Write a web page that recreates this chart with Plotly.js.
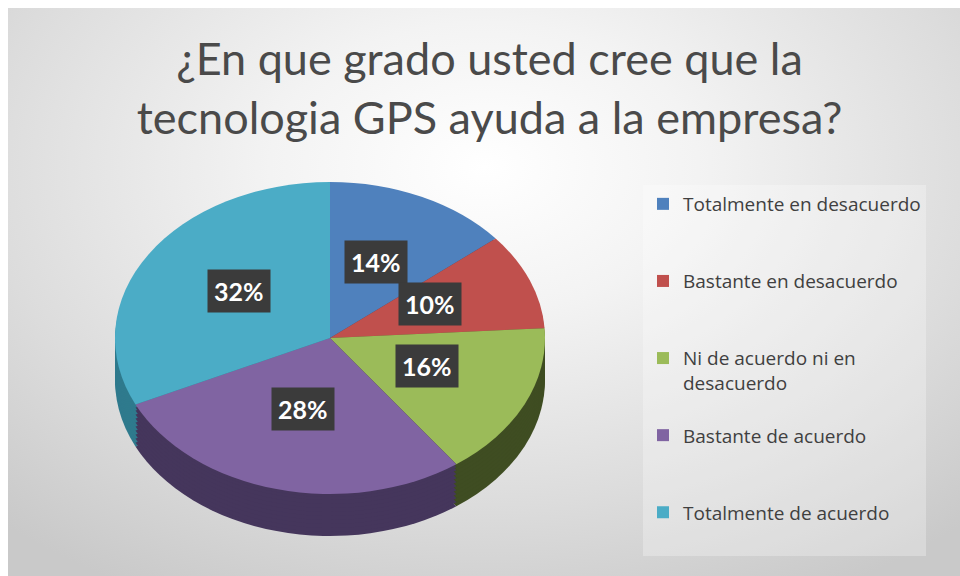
<!DOCTYPE html>
<html>
<head>
<meta charset="utf-8">
<script src="https://cdn.plot.ly/plotly-3.0.1.min.js"></script>
<style>
  html, body { margin: 0; padding: 0; background: #ffffff; }
  #wrap { position: absolute; left: 0; top: 0; width: 960px; height: 576px; background: #ffffff; }
  #bg { position: absolute; left: 8px; top: 8px; width: 952px; height: 568px;
        background: radial-gradient(ellipse 75% 85% at 50% 28%, #ffffff 0%, #f3f3f3 30%, #dcdcdc 70%, #c9c9c9 100%); }
  #chart { position: absolute; left: 0; top: 0; width: 960px; height: 576px; }
</style>
</head>
<body>
<div id="wrap"><div id="bg"></div><div id="chart"></div></div>
<script>
// ---- data ----
const titleText = "¿En que grado usted cree que la<br>tecnologia GPS ayuda a la empresa?";
const categories = [
  "Totalmente en desacuerdo",
  "Bastante en desacuerdo",
  "Ni de acuerdo ni en desacuerdo",
  "Bastante de acuerdo",
  "Totalmente de acuerdo"
];
const percents = [14, 10, 16, 28, 32];
const topColors  = ["#4F81BD", "#C0504D", "#9BBB59", "#8064A2", "#4BACC6"];
const sideColors = ["#2f4d72", "#73302e", "#3f4d22", "#45365c", "#2f7a8d"];

// ---- layout helpers ----
const W = 960, H = 576;
const cxPx = 330, cyPx = 338, rx = 215, ry = 156;
const sy = ry / rx;
const depthOffsets = [42, 38, 34, 30, 26, 22, 18, 14, 10, 6, 3];

function wrapText(s, maxLen) {
  const words = s.split(" ");
  const lines = []; let cur = "";
  words.forEach(w => {
    if (cur && (cur + " " + w).length > maxLen) { lines.push(cur); cur = w; }
    else cur = cur ? cur + " " + w : w;
  });
  if (cur) lines.push(cur);
  return lines;
}
const legendLabels = categories.map((c, i) => {
  const lines = wrapText(c, 24);
  const n = i === categories.length - 1 ? 2 : 3;
  while (lines.length < n) lines.push(" ");
  return lines.join("<br>");
});

const domain = {
  x: [(cxPx - rx) / W, (cxPx + rx) / W],
  y: [1 - (cyPx + rx) / H, 1 - (cyPx - rx) / H]
};

const traces = [];
depthOffsets.forEach(off => {
  traces.push({
    type: "pie", values: percents, labels: legendLabels, sort: false,
    direction: "clockwise", rotation: 0, textinfo: "none", hoverinfo: "skip",
    showlegend: false, domain: domain,
    marker: { colors: sideColors, line: { width: 0 } }
  });
});
traces.push({
  type: "pie", values: percents, labels: legendLabels, sort: false,
  direction: "clockwise", rotation: 0, textinfo: "none",
  hovertemplate: "%{percent}<extra></extra>",
  domain: domain,
  marker: { colors: topColors, line: { width: 0 } }
});

// data labels positioned from cumulative shares
const total = percents.reduce((a, b) => a + b, 0);
let cum = 0;
const annotations = percents.map(v => {
  const mid = (cum + v / 2) / total; cum += v;
  const th = 2 * Math.PI * mid;
  const x = cxPx + 0.5 * rx * Math.sin(th);
  const y = cyPx - 5 - 0.5 * ry * Math.cos(th);
  return {
    xref: "paper", yref: "paper", x: x / W, y: 1 - y / H,
    text: "<b>" + Math.round(v / total * 100) + "%</b>", showarrow: false,
    font: { family: "Lato, 'Open Sans', sans-serif", size: 25, color: "#ffffff" },
    bgcolor: "#3b3b3b", borderpad: 6, xanchor: "center", yanchor: "middle"
  };
});

const layout = {
  width: W, height: H,
  margin: { l: 0, r: 0, t: 0, b: 0 },
  paper_bgcolor: "rgba(0,0,0,0)", plot_bgcolor: "rgba(0,0,0,0)",
  title: {
    text: titleText, x: 0.51, xanchor: "center", y: 1 - 75 / H, yanchor: "middle",
    font: { family: "Lato, 'Open Sans', sans-serif", size: 45, color: "#4a4a4a" }
  },
  showlegend: true,
  legend: {
    x: 643 / W, y: 1 - 185 / H, xanchor: "left", yanchor: "top",
    bgcolor: "rgba(255,255,255,0.28)", borderwidth: 0, valign: "top",
    font: { family: "'Open Sans', Lato, sans-serif", size: 19, color: "#404040" },
    itemclick: false, itemdoubleclick: false
  },
  annotations: annotations
};

Plotly.newPlot("chart", traces, layout, { displayModeBar: false, staticPlot: true }).then(gd => {
  const groups = gd.querySelectorAll(".pielayer .trace");
  groups.forEach((g, i) => {
    const cd0 = gd.calcdata[i][0];
    const cx = cd0.cx, cy = cd0.cy;
    const off = i < depthOffsets.length ? depthOffsets[i] : 0;
    g.setAttribute("transform",
      "translate(0," + off + ") translate(" + cx + "," + cy + ") scale(1," + sy + ") translate(" + (-cx) + "," + (-cy) + ")");
  });
});
</script>
</body>
</html>
